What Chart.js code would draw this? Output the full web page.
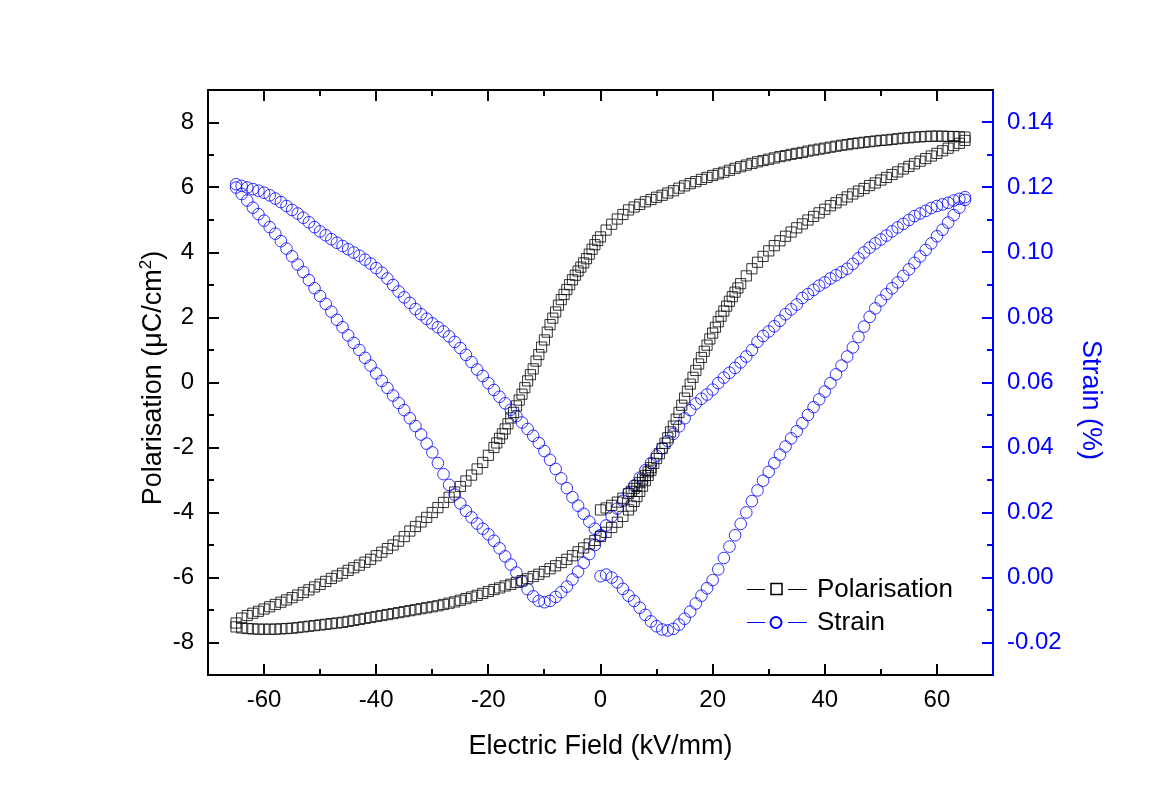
<!DOCTYPE html>
<html><head><meta charset="utf-8">
<script src="https://cdn.jsdelivr.net/npm/chart.js@4.4.1/dist/chart.umd.min.js"></script>
<style>html,body{margin:0;padding:0;background:#fff;}canvas{display:block;}</style>
</head><body>
<canvas id="c" width="1150" height="809"></canvas>
<script>
// ---- Data ----
// Electric field sweep, kV/mm (descending order 65 -> -65)
const fieldDown = [65,64,63,62,61,60,59,58,57,56,55,54,53,52,51,50,49,48,47,46,45,44,43,42,41,40,39,38,37,36,35,34,33,32,31,30,29,28,27,26,25,24,23,22,21,20,19,18,17,16,15,14,13,12,11,10,9,8,7,6,5,4,3,2,1,0,-1,-2,-3,-4,-5,-6,-7,-8,-9,-10,-11,-12,-13,-14,-15,-16,-17,-18,-19,-20,-21,-22,-23,-24,-25,-26,-27,-28,-29,-30,-31,-32,-33,-34,-35,-36,-37,-38,-39,-40,-41,-42,-43,-44,-45,-46,-47,-48,-49,-50,-51,-52,-53,-54,-55,-56,-57,-58,-59,-60,-61,-62,-63,-64,-65];
const fieldAsc = [...fieldDown].reverse();

// Polarisation (uC/cm2)
const polVirgin = [-3.92,-3.86,-3.78,-3.68,-3.56,-3.42,-3.26,-3.08,-2.86,-2.62,
  -2.34,-2.03,-1.70,-1.34,-0.92,-0.48,-0.05,0.37,0.77,1.15,
  1.52,1.87,2.20,2.50,2.78,3.04,3.28,3.50,3.70,3.88,
  4.05,4.21,4.36,4.50,4.63,4.76,4.88,5.00,5.11,5.22,
  5.33,5.44,5.53,5.62,5.71,5.80,5.89,5.97,6.06,6.14,
  6.23,6.31,6.40,6.48,6.57,6.65,6.73,6.81,6.89,6.97,
  7.05,7.13,7.21,7.29,7.36,7.45];               // E = 0 .. 65
const polDown = [7.55,7.56,7.57,7.57,7.58,7.58,7.58,7.57,7.56,7.55,
  7.53,7.52,7.50,7.48,7.46,7.45,7.43,7.41,7.39,7.37,
  7.35,7.32,7.30,7.27,7.24,7.21,7.18,7.15,7.12,7.08,
  7.05,7.02,6.98,6.95,6.91,6.87,6.83,6.79,6.74,6.69,
  6.64,6.59,6.53,6.47,6.42,6.37,6.31,6.25,6.18,6.12,
  6.05,5.98,5.90,5.83,5.76,5.70,5.63,5.56,5.48,5.40,
  5.31,5.17,5.03,4.87,4.69,4.48,4.24,3.95,3.68,3.43,
  3.16,2.86,2.55,2.17,1.78,1.31,0.86,0.42,0.05,-0.36,
  -0.72,-1.09,-1.43,-1.72,-2.00,-2.24,-2.46,-2.66,-2.85,-3.03,
  -3.20,-3.37,-3.53,-3.69,-3.85,-4.00,-4.15,-4.29,-4.43,-4.57,
  -4.74,-4.88,-5.00,-5.11,-5.22,-5.33,-5.44,-5.53,-5.62,-5.70,
  -5.78,-5.87,-5.95,-6.03,-6.12,-6.21,-6.29,-6.38,-6.46,-6.54,
  -6.62,-6.69,-6.76,-6.83,-6.90,-6.97,-7.04,-7.10,-7.17,-7.25,
  -7.40];                                       // E = 65 .. -65
const polUp = [-7.52,-7.55,-7.57,-7.58,-7.59,-7.59,-7.59,-7.59,-7.58,-7.57,
  -7.56,-7.54,-7.52,-7.50,-7.48,-7.46,-7.44,-7.42,-7.40,-7.38,
  -7.35,-7.32,-7.29,-7.26,-7.23,-7.20,-7.17,-7.14,-7.11,-7.08,
  -7.05,-7.02,-6.99,-6.96,-6.93,-6.90,-6.87,-6.83,-6.79,-6.75,
  -6.70,-6.65,-6.60,-6.55,-6.49,-6.43,-6.37,-6.32,-6.26,-6.21,
  -6.15,-6.10,-6.04,-5.97,-5.90,-5.82,-5.73,-5.64,-5.54,-5.44,
  -5.33,-5.21,-5.09,-4.97,-4.86,-4.74,-4.61,-4.46,-4.30,-4.12,
  -3.92,-3.66,-3.35,-3.02,-2.70];               // E = -65 .. 9

// Extra markers on the steep parts of the loop (readings between whole kV/mm)
const polDownSteepE = [-0.5,-1.5,-2.5,-3.5,-4.5,-5.5,-6.5,-7.5,-8.5,-9.5,-10.5,-11.5,-12.5,-13.5,-14.5,-15.5,-16.5,-17.5,-18.5];
const polDownSteepP = [4.37,4.10,3.81,3.55,3.30,3.01,2.71,2.38,1.98,1.55,1.09,0.66,0.24,-0.16,-0.54,-0.92,-1.27,-1.58,-1.86];
const polVirginSteepE = [5.5,6.5,7.5,8.5,9.5,10.5,11.5,12.5,13.5,14.5,15.5,16.5,17.5,18.5,19.5,20.5,21.5,22.5,23.5,24.5];
const polVirginSteepP = [-3.35,-3.17,-2.97,-2.75,-2.49,-2.19,-1.87,-1.52,-1.13,-0.70,-0.27,0.16,0.57,0.96,1.34,1.70,2.04,2.35,2.64,2.91];
const polUpSteepE = [5.5,6.5,7.5,8.5];
const polUpSteepP = [-3.80,-3.51,-3.19,-2.86];

// Strain (%)
const strainVirgin = [0.0004,0.0009,0.0000,-0.0015,-0.0035,-0.0056,-0.0072,-0.0093,-0.0115,-0.0135,
  -0.0150,-0.0160,-0.0163,-0.0158,-0.0145,-0.0127,-0.0105,-0.0080,-0.0056,-0.0033,
  -0.0008,0.0025,0.0060,0.0095,0.0130,0.0165,0.0200,0.0235,0.0268,0.0298,
  0.0325,0.0352,0.0378,0.0403,0.0428,0.0450,0.0475,0.0500,0.0524,0.0548,
  0.0572,0.0598,0.0625,0.0652,0.0680,0.0708,0.0740,0.0772,0.0802,0.0828,
  0.0852,0.0872,0.0890,0.0908,0.0928,0.0948,0.0968,0.0988,0.1008,0.1028,
  0.1050,0.1070,0.1092,0.1115,0.1138,0.1162];   // E = 0 .. 65
const strainDown = [0.1170,0.1165,0.1160,0.1153,0.1148,0.1143,0.1137,0.1128,0.1120,0.1112,
  0.1100,0.1088,0.1077,0.1065,0.1052,0.1040,0.1028,0.1015,0.1000,0.0982,
  0.0965,0.0950,0.0940,0.0930,0.0920,0.0908,0.0898,0.0885,0.0872,0.0860,
  0.0840,0.0825,0.0810,0.0790,0.0773,0.0757,0.0743,0.0725,0.0700,0.0680,
  0.0662,0.0645,0.0630,0.0615,0.0598,0.0578,0.0563,0.0550,0.0535,0.0515,
  0.0490,0.0465,0.0442,0.0420,0.0398,0.0375,0.0352,0.0330,0.0307,0.0283,
  0.0260,0.0236,0.0212,0.0188,0.0160,0.0130,0.0100,0.0072,0.0045,0.0018,
  -0.0006,-0.0028,-0.0045,-0.0060,-0.0072,-0.0076,-0.0072,-0.0058,-0.0036,-0.0012,
  0.0015,0.0040,0.0065,0.0090,0.0113,0.0133,0.0150,0.0166,0.0185,0.0205,
  0.0228,0.0255,0.0285,0.0318,0.0352,0.0385,0.0412,0.0440,0.0466,0.0490,
  0.0515,0.0537,0.0560,0.0583,0.0605,0.0628,0.0652,0.0676,0.0700,0.0722,
  0.0745,0.0770,0.0793,0.0818,0.0842,0.0866,0.0890,0.0915,0.0940,0.0963,
  0.0988,0.1012,0.1035,0.1058,0.1078,0.1098,0.1118,0.1138,0.1160,0.1180,
  0.1200];                                      // E = 65 .. -65
const strainUp = [0.1210,0.1205,0.1200,0.1195,0.1190,0.1184,0.1176,0.1166,0.1155,0.1143,
  0.1131,0.1120,0.1107,0.1093,0.1078,0.1065,0.1053,0.1041,0.1030,0.1020,
  0.1010,0.1000,0.0990,0.0978,0.0966,0.0952,0.0938,0.0920,0.0900,0.0880,
  0.0862,0.0845,0.0826,0.0810,0.0796,0.0782,0.0770,0.0757,0.0742,0.0725,
  0.0706,0.0685,0.0663,0.0640,0.0620,0.0598,0.0577,0.0556,0.0536,0.0516,
  0.0497,0.0477,0.0457,0.0436,0.0414,0.0389,0.0362,0.0334,0.0305,0.0275,
  0.0247,0.0221,0.0196,0.0172,0.0150,0.0128];   // E = -65 .. 0

// Axis ticks
const xMajorTicks = [-60,-40,-20,0,20,40,60];
const xMinorTicks = [-50,-30,-10,10,30,50];
const yMajorTicks = [-8,-6,-4,-2,0,2,4,6,8];
const yMinorTicks = [-7,-5,-3,-1,1,3,5,7];
const y2MajorTicks = [-0.02,0,0.02,0.04,0.06,0.08,0.10,0.12,0.14];
const y2MinorTicks = [-0.01,0.01,0.03,0.05,0.07,0.09,0.11,0.13];

const xTitle = 'Electric Field (kV/mm)';
const yTitleMain = 'Polarisation (\u03BCC/cm';
const yTitleSup = '2';
const yTitleEnd = ')';
const y2Title = 'Strain (%)';
const legendLabels = ['Polarisation', 'Strain'];

// ---- Build ----
const FONT = "'Liberation Sans', Arial, sans-serif";
const BLUE = '#0000ff';
const toPts = (xs, ys) => ys.map((y, i) => ({x: xs[i], y: y}));

const polData = [].concat(
  toPts(fieldAsc.slice(65), polVirgin),
  toPts(polVirginSteepE, polVirginSteepP),
  toPts(fieldDown, polDown),
  toPts(polDownSteepE, polDownSteepP),
  toPts(fieldAsc.slice(0, polUp.length), polUp),
  toPts(polUpSteepE, polUpSteepP));
const strainData = [].concat(
  toPts(fieldAsc.slice(65), strainVirgin),
  toPts(fieldDown, strainDown),
  toPts(fieldAsc.slice(0, strainUp.length), strainUp));

const decor = {
  id: 'decor',
  afterDraw(chart) {
    const ctx = chart.ctx, a = chart.chartArea;
    const sx = chart.scales.x, sy = chart.scales.y, sy2 = chart.scales.y2;
    ctx.save();
    ctx.lineCap = 'butt';
    // top axis line
    ctx.strokeStyle = '#000'; ctx.lineWidth = 2;
    ctx.beginPath(); ctx.moveTo(a.left - 1, a.top); ctx.lineTo(a.right, a.top); ctx.stroke();
    const MAJ = 11, MIN = 6;
    // x ticks (bottom + top), inward
    const xt = (v, len) => {
      const p = Math.round(sx.getPixelForValue(v));
      ctx.beginPath();
      ctx.moveTo(p, a.bottom); ctx.lineTo(p, a.bottom - len);
      ctx.moveTo(p, a.top); ctx.lineTo(p, a.top + len);
      ctx.stroke();
    };
    xMajorTicks.forEach(v => xt(v, MAJ));
    xMinorTicks.forEach(v => xt(v, MIN));
    // left ticks
    const yt = (v, len) => {
      const p = Math.round(sy.getPixelForValue(v));
      ctx.beginPath(); ctx.moveTo(a.left, p); ctx.lineTo(a.left + len, p); ctx.stroke();
    };
    yMajorTicks.forEach(v => yt(v, MAJ));
    yMinorTicks.forEach(v => yt(v, MIN));
    // right ticks (blue)
    ctx.strokeStyle = BLUE;
    const y2t = (v, len) => {
      const p = Math.round(sy2.getPixelForValue(v));
      ctx.beginPath(); ctx.moveTo(a.right, p); ctx.lineTo(a.right - len, p); ctx.stroke();
    };
    y2MajorTicks.forEach(v => y2t(v, MAJ));
    y2MinorTicks.forEach(v => y2t(v, MIN));

    // axis titles
    ctx.fillStyle = '#000';
    ctx.font = '27px ' + FONT;
    ctx.textAlign = 'center'; ctx.textBaseline = 'alphabetic';
    ctx.fillText(xTitle, (a.left + a.right) / 2, 754);

    // left title with superscript
    ctx.save();
    ctx.translate(161, 378);
    ctx.rotate(-Math.PI / 2);
    ctx.textAlign = 'left';
    ctx.font = '27px ' + FONT;
    const w1 = ctx.measureText(yTitleMain).width;
    const w3 = ctx.measureText(yTitleEnd).width;
    ctx.font = '17px ' + FONT;
    const w2 = ctx.measureText(yTitleSup).width;
    const x0 = -(w1 + w2 + w3) / 2;
    ctx.font = '27px ' + FONT;
    ctx.fillText(yTitleMain, x0, 0);
    ctx.font = '17px ' + FONT;
    ctx.fillText(yTitleSup, x0 + w1, -10);
    ctx.font = '27px ' + FONT;
    ctx.fillText(yTitleEnd, x0 + w1 + w2, 0);
    ctx.restore();

    // right title
    ctx.save();
    ctx.translate(1083, 400);
    ctx.rotate(Math.PI / 2);
    ctx.fillStyle = BLUE;
    ctx.textAlign = 'center';
    ctx.font = '27px ' + FONT;
    ctx.fillText(y2Title, 0, 0);
    ctx.restore();

    // legend
    const lx0 = 747, rows = [589, 622];
    ctx.font = '26px ' + FONT;
    ctx.textAlign = 'left'; ctx.textBaseline = 'alphabetic';
    ctx.strokeStyle = '#000'; ctx.lineWidth = 1;
    ctx.beginPath();
    ctx.moveTo(lx0, rows[0] + 0.5); ctx.lineTo(lx0 + 18, rows[0] + 0.5);
    ctx.moveTo(lx0 + 41, rows[0] + 0.5); ctx.lineTo(lx0 + 60, rows[0] + 0.5);
    ctx.stroke();
    ctx.lineWidth = 1.5;
    ctx.strokeRect(lx0 + 24, rows[0] - 5.5, 11, 11);
    ctx.fillStyle = '#000';
    ctx.fillText(legendLabels[0], 817, rows[0] + 8);
    ctx.strokeStyle = BLUE; ctx.lineWidth = 1;
    ctx.beginPath();
    ctx.moveTo(lx0, rows[1] + 0.5); ctx.lineTo(lx0 + 18, rows[1] + 0.5);
    ctx.moveTo(lx0 + 41, rows[1] + 0.5); ctx.lineTo(lx0 + 60, rows[1] + 0.5);
    ctx.stroke();
    ctx.lineWidth = 2;
    ctx.beginPath(); ctx.arc(lx0 + 29, rows[1] + 0.5, 5.5, 0, Math.PI * 2); ctx.stroke();
    ctx.fillStyle = '#000';
    ctx.fillText(legendLabels[1], 817, rows[1] + 8);
    ctx.restore();
  }
};

const tickFont = {family: FONT, size: 24};
new Chart(document.getElementById('c').getContext('2d'), {
  type: 'scatter',
  data: {
    datasets: [
      {
        label: legendLabels[0], data: polData, yAxisID: 'y',
        pointStyle: 'rect', pointRadius: 7.2, borderWidth: 1,
        borderColor: 'rgba(0,0,0,0.8)', backgroundColor: 'rgba(0,0,0,0)',
        showLine: false
      },
      {
        label: legendLabels[1], data: strainData, yAxisID: 'y2',
        pointStyle: 'circle', pointRadius: 5.8, borderWidth: 1,
        borderColor: 'rgba(0,0,255,0.8)', backgroundColor: 'rgba(0,0,0,0)',
        showLine: false
      }
    ]
  },
  options: {
    responsive: false, animation: false, devicePixelRatio: 1, events: [],
    layout: {padding: {top: 90, left: 0, right: 0, bottom: 0}},
    plugins: {legend: {display: false}, tooltip: {enabled: false}, title: {display: false}},
    scales: {
      x: {
        type: 'linear', position: 'bottom', min: -70, max: 70,
        grid: {display: false, drawTicks: false},
        border: {display: true, color: '#000', width: 2},
        ticks: {font: tickFont, color: '#000', padding: 11, maxRotation: 0, autoSkip: false,
                callback: v => String(v)},
        afterBuildTicks: s => { s.ticks = xMajorTicks.map(v => ({value: v})); },
        afterFit: s => { s.height = 134; }
      },
      y: {
        type: 'linear', position: 'left', min: -9, max: 9,
        grid: {display: false, drawTicks: false},
        border: {display: true, color: '#000', width: 2},
        ticks: {font: tickFont, color: '#000', padding: 14, autoSkip: false, callback: v => String(v)},
        afterBuildTicks: s => { s.ticks = yMajorTicks.map(v => ({value: v})); },
        afterFit: s => { s.width = 208; }
      },
      y2: {
        type: 'linear', position: 'right', min: -0.03, max: 0.15,
        grid: {display: false, drawTicks: false},
        border: {display: true, color: BLUE, width: 2},
        ticks: {font: tickFont, color: BLUE, padding: 14, autoSkip: false, callback: v => Number(v).toFixed(2)},
        afterBuildTicks: s => { s.ticks = y2MajorTicks.map(v => ({value: v})); },
        afterFit: s => { s.width = 157; }
      }
    }
  },
  plugins: [decor]
});
</script>
</body></html>
